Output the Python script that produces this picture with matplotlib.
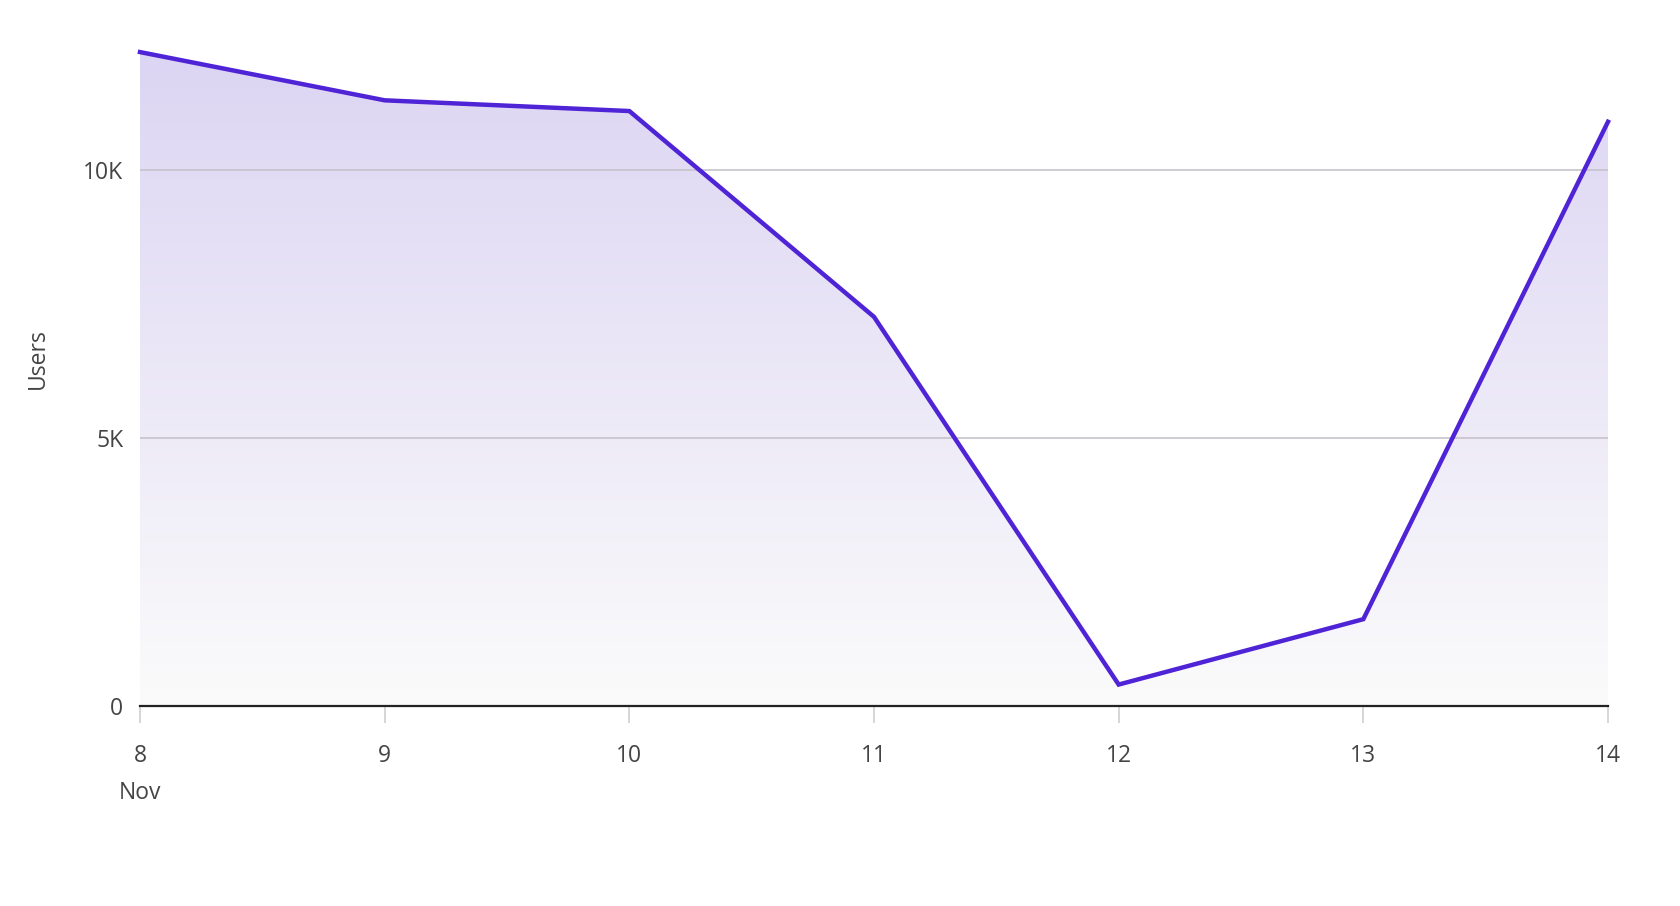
import matplotlib
matplotlib.use("Agg")
import matplotlib.pyplot as plt
import numpy as np
from matplotlib.patches import Polygon

days = [8, 9, 10, 11, 12, 13, 14]
users = [12200, 11300, 11100, 7260, 400, 1620, 10900]
tick_labels = ["8", "9", "10", "11", "12", "13", "14"]
yticks = [0, 5000, 10000]
ytick_labels = ["0", "5K", "10K"]

plt.rcParams['font.family'] = ['Open Sans', 'DejaVu Sans']

fig = plt.figure(figsize=(16.8, 9.06), dpi=100)
ax = fig.add_axes([140/1680, 1-706/906, (1608-140)/1680, (706-49.4)/906])
ymax = 12250

# gradient fill
grad = np.linspace(0, 1, 256).reshape(-1, 1)
top = np.array([220, 213, 243]) / 255
bot = np.array([251, 251, 251]) / 255
img = bot + (top - bot) * grad[:, :, None] * np.ones((1, 1, 3))
img = img.reshape(256, 1, 3)
ymaxdata = max(users)
im = ax.imshow(img, extent=[days[0], days[-1], 0, ymaxdata], origin='lower',
               aspect='auto', zorder=1)
poly = Polygon(list(zip(days, users)) + [(days[-1], 0), (days[0], 0)],
               closed=True, transform=ax.transData, facecolor='none', edgecolor='none')
ax.add_patch(poly)
im.set_clip_path(poly)
ax.set_xlim(days[0], days[-1])
ax.set_ylim(0, ymax)

for y in yticks[1:]:
    ax.axhline(y, color='#c6c3cc', lw=1.2, zorder=2)

ax.plot(days, users, color='#4f23d6', lw=3.2, zorder=4, clip_on=False,
        solid_joinstyle='miter')

for s in ['top', 'right', 'left']:
    ax.spines[s].set_visible(False)
ax.spines['bottom'].set_color('#222222')
ax.spines['bottom'].set_linewidth(1.6)
ax.spines['bottom'].set_zorder(5)

fs = 16.5
ax.set_xticks(days)
ax.set_xticklabels(tick_labels, fontsize=fs, color='#444444')
ax.tick_params(axis='x', length=12, width=1.2, color='#d0d0d0', pad=15)
ax.set_yticks(yticks)
ax.set_yticklabels(ytick_labels, fontsize=fs, color='#444444')
ax.tick_params(axis='y', length=0, pad=12)

fig.text(140/1680, 1-793/906, "Nov", ha='center', va='center', fontsize=fs, color='#444444')
fig.text(38/1680, 1-359/906, "Users", ha='center', va='center', rotation=90,
         fontsize=fs, color='#444444')

fig.savefig("out.png", dpi=100, facecolor='white')
